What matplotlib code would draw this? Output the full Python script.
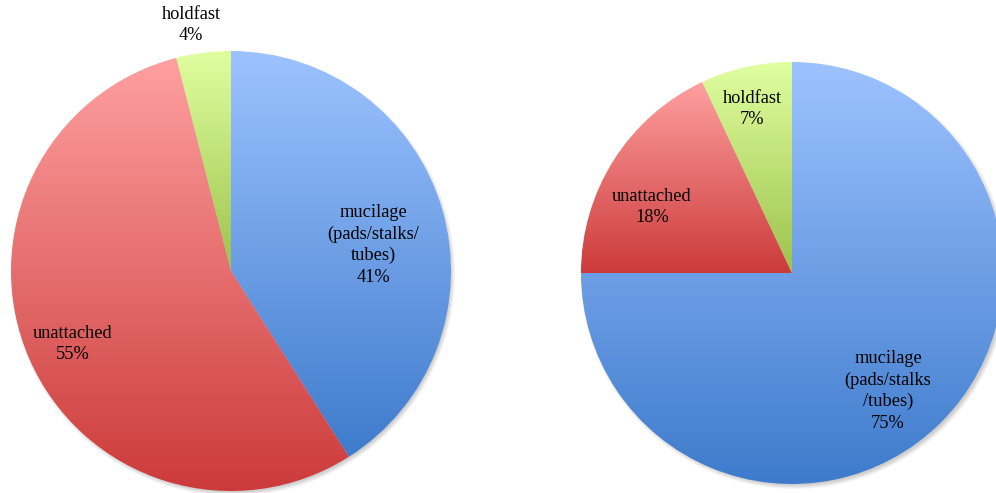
import numpy as np
import matplotlib
matplotlib.use("Agg")
import matplotlib.pyplot as plt
from matplotlib.colors import to_rgb

# Attachment modes for the two samples
categories = ["mucilage", "unattached", "holdfast"]
left_values = [41, 55, 4]
right_values = [75, 18, 7]
left_labels = ["mucilage\n(pads/stalks/\ntubes)\n41%", "unattached\n55%", "holdfast\n4%"]
right_labels = ["mucilage\n(pads/stalks\n/tubes)\n75%", "unattached\n18%", "holdfast\n7%"]

# (top colour, bottom colour) of each slice's vertical gradient
gradients = {
    "mucilage": ("#9DC3FF", "#3E7BCC"),
    "unattached": ("#FFA0A0", "#CC3A3A"),
    "holdfast": ("#E0FFA0", "#9CC24C"),
}

W, H = 996, 493
fig = plt.figure(figsize=(W / 100, H / 100), dpi=100)
ax = fig.add_axes([0, 0, 1, 1])

# layout in pixel units (y measured from the bottom)
pies = [
    dict(values=left_values, labels=left_labels, center=(231, H - 271), radius=220,
         label_pos=[(373, H - 245), (73, H - 344), (191, H - 25)]),
    dict(values=right_values, labels=right_labels, center=(792, H - 273), radius=211,
         label_pos=[(888, H - 391), (652, H - 207), (752, H - 109)]),
]


def soft_shadow(ax, cx, cy, r):
    pad = 12
    xs = np.linspace(cx - r - pad, cx + r + pad, 2 * (r + pad))
    ys = np.linspace(cy - r - pad, cy + r + pad, 2 * (r + pad))
    X, Y = np.meshgrid(xs, ys)
    d = np.hypot(X - (cx + 2), Y - (cy - 3))
    a = np.clip((r + 3 - d) / 5.0, 0, 1) * 0.35
    img = np.zeros(X.shape + (4,))
    img[..., :3] = 0.45
    img[..., 3] = a
    ax.imshow(img, extent=(xs[0], xs[-1], ys[0], ys[-1]), origin="lower",
              zorder=0.5, interpolation="bilinear")


def gradient_fill(ax, wedge, top, bottom):
    cx, cy = wedge.center
    r = wedge.r
    th = np.radians(np.linspace(wedge.theta1, wedge.theta2, 400))
    px = np.concatenate([[cx], cx + r * np.cos(th)])
    py = np.concatenate([[cy], cy + r * np.sin(th)])
    x0, x1, y0, y1 = px.min(), px.max(), py.min(), py.max()
    t = np.linspace(0, 1, 256)[:, None]
    c_top, c_bot = np.array(to_rgb(top)), np.array(to_rgb(bottom))
    col = c_bot * (1 - t) + c_top * t
    img = np.repeat(col[:, None, :], 2, axis=1)
    im = ax.imshow(img, extent=(x0 - 1, x1 + 1, y0 - 1, y1 + 1), origin="lower",
                   zorder=1, interpolation="bilinear", aspect="auto")
    im.set_clip_path(wedge)


for p in pies:
    cx, cy = p["center"]
    soft_shadow(ax, cx, cy, p["radius"])
    wedges, _ = ax.pie(p["values"], center=p["center"], radius=p["radius"],
                       startangle=90, counterclock=False, frame=True,
                       wedgeprops=dict(facecolor="none", edgecolor="none"))
    for w, cat in zip(wedges, categories):
        top, bottom = gradients[cat]
        gradient_fill(ax, w, top, bottom)
    for txt, (lx, ly) in zip(p["labels"], p["label_pos"]):
        ax.text(lx, ly, txt, ha="center", va="center", fontsize=13.2,
                family="Liberation Serif", color="black", linespacing=1.32, zorder=3)

ax.set_xlim(0, W)
ax.set_ylim(0, H)
ax.set_aspect("auto")
ax.axis("off")
fig.savefig("out.png", dpi=100, facecolor="white")
